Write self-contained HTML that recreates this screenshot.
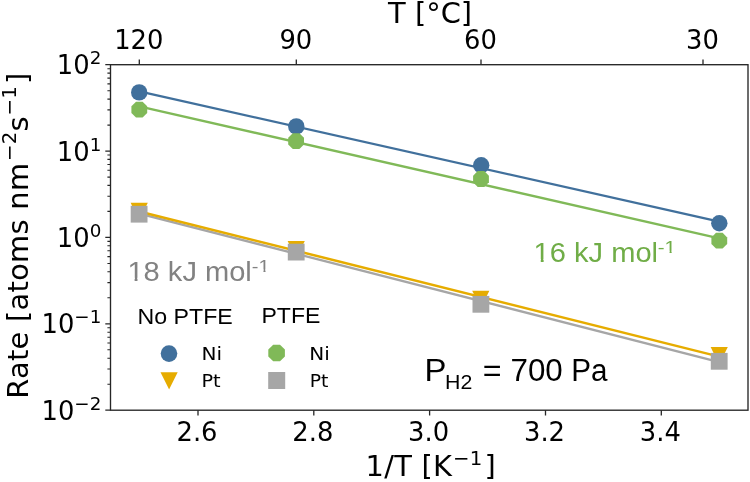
<!DOCTYPE html>
<html lang="en"><head><meta charset="utf-8"><title>Rate vs 1/T</title>
<style>html,body{margin:0;padding:0;background:#fff}svg{display:block}</style></head><body>
<svg width="750" height="482" viewBox="0 0 750 482">
<rect width="750" height="482" fill="#fff"/>
<line x1="139.2" y1="91.4" x2="719.3" y2="221.6" stroke="#41709c" stroke-width="2.3"/>
<line x1="139.2" y1="213.6" x2="719.3" y2="362.1" stroke="#a6a6a6" stroke-width="2.3"/>
<line x1="139.2" y1="211.5" x2="719.3" y2="356.6" stroke="#e6ac00" stroke-width="2.5"/>
<line x1="139.2" y1="106.4" x2="719.3" y2="238.3" stroke="#80b958" stroke-width="2.3"/>
<circle cx="139.2" cy="92.4" r="8.2" fill="#41709c"/>
<circle cx="296.3" cy="126.4" r="8.2" fill="#41709c"/>
<circle cx="481.2" cy="165.3" r="8.2" fill="#41709c"/>
<circle cx="719.3" cy="223.3" r="8.2" fill="#41709c"/>
<polygon points="130.6,202.7 147.8,202.7 139.2,219.9" fill="#e6ac00"/>
<polygon points="287.6,241.0 304.8,241.0 296.2,258.2" fill="#e6ac00"/>
<polygon points="472.2,290.7 489.4,290.7 480.8,307.9" fill="#e6ac00"/>
<polygon points="710.6,347.0 727.8,347.0 719.2,364.2" fill="#e6ac00"/>
<polygon points="147.2,112.9 142.6,117.5 136.0,117.5 131.4,112.9 131.4,106.3 136.0,101.7 142.6,101.7 147.2,106.3" fill="#80b958"/>
<polygon points="304.0,144.4 299.4,149.0 292.8,149.0 288.2,144.4 288.2,137.8 292.8,133.2 299.4,133.2 304.0,137.8" fill="#80b958"/>
<polygon points="488.9,182.3 484.3,186.9 477.7,186.9 473.1,182.3 473.1,175.7 477.7,171.1 484.3,171.1 488.9,175.7" fill="#80b958"/>
<polygon points="727.2,244.0 722.6,248.6 716.0,248.6 711.4,244.0 711.4,237.4 716.0,232.8 722.6,232.8 727.2,237.4" fill="#80b958"/>
<rect x="130.7" y="205.8" width="16.8" height="16.8" fill="#a6a6a6"/>
<rect x="287.8" y="243.7" width="16.8" height="16.8" fill="#a6a6a6"/>
<rect x="472.5" y="295.9" width="16.8" height="16.8" fill="#a6a6a6"/>
<rect x="710.8" y="352.9" width="16.8" height="16.8" fill="#a6a6a6"/>
<rect x="110.5" y="64.7" width="637.5" height="345.5" fill="none" stroke="#262626" stroke-width="1.35"/>
<path d="M198.0 410.2 v5.2 M313.8 410.2 v5.2 M429.6 410.2 v5.2 M545.5 410.2 v5.2 M661.3 410.2 v5.2 M139.3 64.7 v-5.2 M296.3 64.7 v-5.2 M481.0 64.7 v-5.2 M703.0 64.7 v-5.2 M110.5 410.2 h-5.2 M110.5 323.8 h-5.2 M110.5 237.4 h-5.2 M110.5 151.1 h-5.2 M110.5 64.7 h-5.2" stroke="#262626" stroke-width="1.3" fill="none"/>
<path d="M110.5 384.2 h-3.1 M110.5 369.0 h-3.1 M110.5 358.2 h-3.1 M110.5 349.8 h-3.1 M110.5 343.0 h-3.1 M110.5 337.2 h-3.1 M110.5 332.2 h-3.1 M110.5 327.8 h-3.1 M110.5 297.8 h-3.1 M110.5 282.6 h-3.1 M110.5 271.8 h-3.1 M110.5 263.5 h-3.1 M110.5 256.6 h-3.1 M110.5 250.8 h-3.1 M110.5 245.8 h-3.1 M110.5 241.4 h-3.1 M110.5 211.4 h-3.1 M110.5 196.2 h-3.1 M110.5 185.4 h-3.1 M110.5 177.1 h-3.1 M110.5 170.2 h-3.1 M110.5 164.5 h-3.1 M110.5 159.4 h-3.1 M110.5 155.0 h-3.1 M110.5 125.1 h-3.1 M110.5 109.9 h-3.1 M110.5 99.1 h-3.1 M110.5 90.7 h-3.1 M110.5 83.9 h-3.1 M110.5 78.1 h-3.1 M110.5 73.1 h-3.1 M110.5 68.7 h-3.1" stroke="#262626" stroke-width="1.1" fill="none"/>
<g font-family="'DejaVu Sans', 'Liberation Sans', sans-serif" font-size="25.8" fill="#000">
<text x="197.0" y="441.3" text-anchor="middle">2.6</text>
<text x="312.8" y="441.3" text-anchor="middle">2.8</text>
<text x="428.6" y="441.3" text-anchor="middle">3.0</text>
<text x="544.5" y="441.3" text-anchor="middle">3.2</text>
<text x="660.3" y="441.3" text-anchor="middle">3.4</text>
<text x="138.8" y="48.8" text-anchor="middle">120</text>
<text x="295.8" y="48.8" text-anchor="middle">90</text>
<text x="480.5" y="48.8" text-anchor="middle">60</text>
<text x="702.5" y="48.8" text-anchor="middle">30</text>
<text x="101.3" y="419.7" text-anchor="end">10<tspan font-size="18.3" dy="-10.0" dx="0">−2</tspan></text>
<text x="101.3" y="333.3" text-anchor="end">10<tspan font-size="18.3" dy="-10.0" dx="0">−1</tspan></text>
<text x="101.3" y="246.9" text-anchor="end">10<tspan font-size="18.3" dy="-10.0" dx="0">0</tspan></text>
<text x="101.3" y="160.6" text-anchor="end">10<tspan font-size="18.3" dy="-10.0" dx="0">1</tspan></text>
<text x="101.3" y="74.2" text-anchor="end">10<tspan font-size="18.3" dy="-10.0" dx="0">2</tspan></text>
</g>
<g font-family="'DejaVu Sans', 'Liberation Sans', sans-serif" font-size="28.9" fill="#000">
<text x="430.1" y="22.7" text-anchor="middle">T [°C]</text>
<text x="430.8" y="476" text-anchor="middle" letter-spacing="0.25">1/T [K<tspan font-size="19.7" dy="-11.5" dx="0.8">−1</tspan><tspan dy="11.5" dx="2">]</tspan></text>
<text transform="translate(28 235.6) rotate(-90)" text-anchor="middle" letter-spacing="0.28">Rate [atoms nm<tspan font-size="19.7" dy="-12" dx="1.6">−2</tspan><tspan dy="12">s</tspan><tspan font-size="19.7" dy="-12" dx="0.6">−1</tspan><tspan dy="12" dx="2">]</tspan></text>
</g>
<circle cx="169" cy="353.6" r="8.3" fill="#41709c"/>
<polygon points="160.5,372.3 177.7,372.3 169.1,389.5" fill="#e6ac00"/>
<polygon points="284.9,356.4 280.0,361.3 273.2,361.3 268.3,356.4 268.3,349.6 273.2,344.7 280.0,344.7 284.9,349.6" fill="#80b958"/>
<rect x="268.2" y="372.0" width="17.0" height="17.0" fill="#a6a6a6"/>
<text font-family="'Liberation Sans', Arial, sans-serif" font-size="22.6" fill="#000" x="137.50" y="323.5" textLength="95.23" lengthAdjust="spacingAndGlyphs">No PTFE</text>
<text font-family="'Liberation Sans', Arial, sans-serif" font-size="22.6" fill="#000" x="261.49" y="323.4" textLength="58.91" lengthAdjust="spacingAndGlyphs">PTFE</text>
<text font-family="'DejaVu Sans', 'Liberation Sans', sans-serif" font-size="17.4" fill="#000" x="201.43" y="360.0" textLength="20.57" lengthAdjust="spacingAndGlyphs">Ni</text>
<text font-family="'DejaVu Sans', 'Liberation Sans', sans-serif" font-size="17.4" fill="#000" x="201.46" y="386.9" textLength="19.23" lengthAdjust="spacingAndGlyphs">Pt</text>
<text font-family="'DejaVu Sans', 'Liberation Sans', sans-serif" font-size="17.4" fill="#000" x="309.34" y="360.0" textLength="20.54" lengthAdjust="spacingAndGlyphs">Ni</text>
<text font-family="'DejaVu Sans', 'Liberation Sans', sans-serif" font-size="17.4" fill="#000" x="309.67" y="386.9" textLength="18.71" lengthAdjust="spacingAndGlyphs">Pt</text>
<text font-family="'Liberation Sans', Arial, sans-serif" font-size="28.2" fill="#828282" x="127.45" y="280.8" textLength="124.39" lengthAdjust="spacingAndGlyphs">18 kJ mol</text>
<text font-family="'Liberation Sans', Arial, sans-serif" font-size="16.6" fill="#828282" x="251.88" y="271.5" textLength="17.82" lengthAdjust="spacingAndGlyphs">-1</text>
<text font-family="'Liberation Sans', Arial, sans-serif" font-size="28.2" fill="#70ad47" x="533.59" y="261.9" textLength="124.44" lengthAdjust="spacingAndGlyphs">16 kJ mol</text>
<text font-family="'Liberation Sans', Arial, sans-serif" font-size="16.6" fill="#70ad47" x="657.75" y="253.0" textLength="18.18" lengthAdjust="spacingAndGlyphs">-1</text>
<text font-family="'Liberation Sans', Arial, sans-serif" font-size="31.0" fill="#000" x="424.49" y="381.3" textLength="21.92" lengthAdjust="spacingAndGlyphs">P</text>
<text font-family="'Liberation Sans', Arial, sans-serif" font-size="20.4" fill="#000" x="445.07" y="388.7" textLength="27.28" lengthAdjust="spacingAndGlyphs">H2</text>
<text font-family="'Liberation Sans', Arial, sans-serif" font-size="31.0" fill="#000" x="482.88" y="381.1" textLength="18.80" lengthAdjust="spacingAndGlyphs">=</text>
<text font-family="'Liberation Sans', Arial, sans-serif" font-size="31.0" fill="#000" x="510.51" y="381.1" textLength="52.31" lengthAdjust="spacingAndGlyphs">700</text>
<text font-family="'Liberation Sans', Arial, sans-serif" font-size="31.0" fill="#000" x="571.18" y="381.1" textLength="36.26" lengthAdjust="spacingAndGlyphs">Pa</text>
<path d="M128.46 277.79H134.61v3.91H128.46zM137.48 277.79H143.39v3.91H137.48z" fill="#fff"/>
<path d="M534.61 258.89H540.76v3.91H534.61zM543.63 258.89H549.55v3.91H543.63z" fill="#fff"/>
<path d="M258.88 269.36H263.45v3.04H258.88zM265.52 269.36H269.93v3.04H265.52z" fill="#fff"/>
<path d="M664.92 250.86H669.55v3.04H664.92zM671.66 250.86H676.14v3.04H671.66z" fill="#fff"/>
</svg></body></html>
